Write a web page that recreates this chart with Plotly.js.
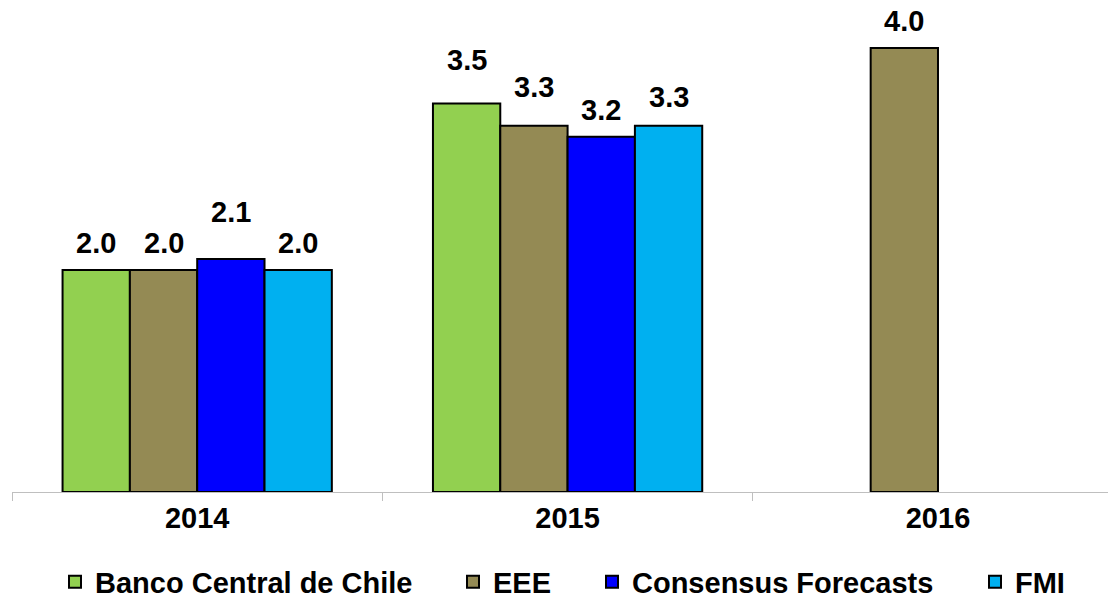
<!DOCTYPE html>
<html>
<head>
<meta charset="utf-8">
<script src="https://cdn.plot.ly/plotly-3.0.1.min.js"></script>
<style>html,body{margin:0;padding:0;background:#fff;}#chart{width:1108px;height:596px;}</style>
</head>
<body>
<div id="chart"></div>
<script>
const categories = ['2014', '2015', '2016'];
const seriesNames = ['Banco Central de Chile', 'EEE', 'Consensus Forecasts', 'FMI'];
const bancoCentral = [2.0, 3.5, null];
const eee = [2.0, 3.3, 4.0];
const consensus = [2.1, 3.2, null];
const fmi = [2.0, 3.3, null];
const colors = ['#92D050', '#948A54', '#0000FF', '#00B0F0'];

// layout-only: extra lift (px) of individual value labels, as nudged in the original
const labelLift = [[0, 16, 0], [0, 12, 0], [20, 0, 0], [0, 2, 0]];
// layout-only: legend entry left edges (px)
const legendLeft = [55, 453, 592, 975];

const allValues = [bancoCentral, eee, consensus, fmi];
const FONT = 'Liberation Sans, Arial, sans-serif';
const W = 1108, H = 596, ML = 12, MB = 104;
const plotW = W - ML, plotH = H - MB;
const xRange = [-0.5, 2.459];
const bargap = 0.273;
const catPx = plotW / (xRange[1] - xRange[0]);
const barPx = catPx * (1 - bargap) / allValues.length;

const legendIds = ['legend', 'legend2', 'legend3', 'legend4'];

const traces = allValues.map((vals, i) => ({
  type: 'bar',
  name: seriesNames[i],
  legend: legendIds[i],
  x: categories,
  y: vals,
  marker: {color: colors[i], line: {color: '#000', width: 2}},
  hoverinfo: 'skip'
}));

const annotations = [];
allValues.forEach((vals, i) => {
  vals.forEach((v, j) => {
    if (v == null) return;
    annotations.push({
      x: j, y: v, xref: 'x', yref: 'y',
      text: v.toFixed(1), showarrow: false,
      xanchor: 'center', yanchor: 'bottom',
      xshift: (i - (allValues.length - 1) / 2) * barPx,
      yshift: 9 + labelLift[i][j],
      font: {family: FONT, size: 29, color: '#000', weight: 700}
    });
  });
});

const layout = {
  width: W, height: H,
  margin: {l: ML, r: 0, t: 0, b: MB, autoexpand: false},
  paper_bgcolor: '#fff', plot_bgcolor: '#fff',
  barmode: 'group',
  bargap: bargap,
  bargroupgap: 0,
  showlegend: true,
  annotations: annotations,
  xaxis: {
    type: 'category', range: xRange,
    showline: true, linecolor: '#BFBFBF', linewidth: 1,
    ticks: 'outside', tickson: 'boundaries', ticklen: 8, tickcolor: '#BFBFBF',
    tickfont: {family: FONT, size: 29, color: '#000', weight: 700},
    showgrid: false, zeroline: false
  },
  yaxis: {
    range: [0, 4.432], visible: false, showgrid: false, zeroline: false
  }
};

legendIds.forEach((id, i) => {
  layout[id] = {
    orientation: 'h',
    x: (legendLeft[i] - ML) / plotW, xanchor: 'left',
    y: -90 / plotH, yanchor: 'middle',
    font: {family: FONT, size: 29, color: '#000', weight: 700},
    itemclick: false, itemdoubleclick: false,
    bgcolor: 'rgba(0,0,0,0)'
  };
});

Plotly.newPlot('chart', traces, layout, {displayModeBar: false, staticPlot: true});
</script>
</body>
</html>
